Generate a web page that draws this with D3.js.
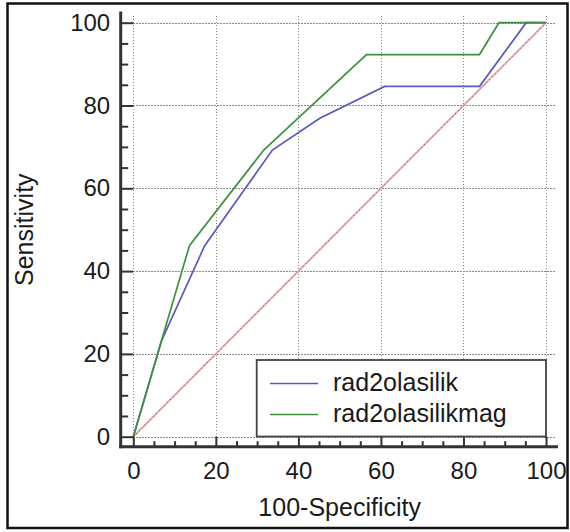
<!DOCTYPE html>
<html>
<head>
<meta charset="utf-8">
<script src="https://cdn.jsdelivr.net/npm/d3@7"></script>
<style>
  body { margin: 0; background: #fff; }
  text { font-family: "Liberation Sans", Arial, sans-serif; fill: #1a1a1a; }
</style>
</head>
<body>
<svg id="chart" width="570" height="532"></svg>
<script>
// ROC curves, values
var seriesNames = ["rad2olasilik", "rad2olasilikmag"];
var fprA  = [0, 6.8, 17.3, 33.7, 45.2, 60.9, 83.9, 95.2, 100];
var sensA = [0, 23.08, 46.15, 69.23, 76.92, 84.62, 84.62, 100, 100];
var fprB  = [0, 6.8, 13.6, 31.6, 56.5, 83.9, 88.6, 100];
var sensB = [0, 23.08, 46.15, 69.23, 92.31, 92.31, 100, 100];
var majorTicks = [0, 20, 40, 60, 80, 100];
var minorTicks = d3.range(0, 101, 5).filter(function (v) { return v % 20 !== 0; });

var colors = ["#5a5abf", "#3f913f"];

var svg = d3.select("#chart");

var x = d3.scaleLinear().domain([0, 100]).range([133.3, 546]);
var y = d3.scaleLinear().domain([0, 100]).range([436.7, 22.7]);

var axisX = 120.7, axisY = 446.7;

// outer frame
svg.append("rect")
  .attr("x", 7.5).attr("y", 3.5)
  .attr("width", 560).attr("height", 524.5)
  .attr("fill", "none").attr("stroke", "#111").attr("stroke-width", 2.5);

// dotted grid
var grid = svg.append("g").attr("stroke", "#8a8a8a").attr("stroke-width", 1)
  .attr("stroke-dasharray", "1.5,1.5").attr("shape-rendering", "crispEdges");
grid.selectAll("line.v").data(majorTicks).enter().append("line").attr("class", "v")
  .attr("x1", function (d) { return Math.round(x(d)) + 0.5; })
  .attr("x2", function (d) { return Math.round(x(d)) + 0.5; })
  .attr("y1", Math.round(y(0))).attr("y2", 14);
grid.selectAll("line.h").data(majorTicks).enter().append("line").attr("class", "h")
  .attr("y1", function (d) { return Math.round(y(d)) + 0.5; })
  .attr("y2", function (d) { return Math.round(y(d)) + 0.5; })
  .attr("x1", Math.round(x(0))).attr("x2", 556);

// diagonal reference
svg.append("line")
  .attr("x1", x(0)).attr("y1", y(0)).attr("x2", x(100)).attr("y2", y(100))
  .attr("stroke", "#e0b0b0").attr("stroke-width", 2);
svg.append("line")
  .attr("x1", x(0)).attr("y1", y(0)).attr("x2", x(100)).attr("y2", y(100))
  .attr("stroke", "#a03838").attr("stroke-width", 1).attr("stroke-dasharray", "1,3");

// curves
var line = d3.line()
  .x(function (d) { return x(d[0]); })
  .y(function (d) { return y(d[1]); });

var curves = [d3.zip(fprA, sensA), d3.zip(fprB, sensB)];
svg.selectAll(".curve").data(curves).enter().append("path")
  .attr("class", "curve")
  .attr("d", line)
  .attr("fill", "none")
  .attr("stroke", function (d, i) { return colors[i]; })
  .attr("stroke-width", 1.7);

// axes
var yAxis = svg.append("g").attr("transform", "translate(" + axisX + ",0)")
  .call(d3.axisLeft(y).tickValues(majorTicks).tickSize(-12.5).tickPadding(10.5));
var yMinor = svg.append("g").attr("transform", "translate(" + axisX + ",0)")
  .call(d3.axisLeft(y).tickValues(minorTicks).tickSize(-7.5).tickFormat(""));
var xAxis = svg.append("g").attr("transform", "translate(0," + axisY + ")")
  .call(d3.axisBottom(x).tickValues(majorTicks).tickSize(-10).tickPadding(15));
var xMinor = svg.append("g").attr("transform", "translate(0," + axisY + ")")
  .call(d3.axisBottom(x).tickValues(minorTicks).tickSize(-5.5).tickFormat(""));

[yAxis, yMinor, xAxis, xMinor].forEach(function (g) {
  g.select(".domain").remove();
  g.selectAll(".tick line").attr("stroke", "#333").attr("stroke-width", 2);
  g.selectAll("text").attr("font-size", "24px")
    .attr("font-family", "'Liberation Sans', Arial, sans-serif").attr("fill", "#1a1a1a");
});

svg.append("line").attr("x1", axisX).attr("x2", axisX).attr("y1", 11.5).attr("y2", axisY + 1.5)
  .attr("stroke", "#333").attr("stroke-width", 3);
svg.append("line").attr("x1", axisX - 1.5).attr("x2", 558).attr("y1", axisY).attr("y2", axisY)
  .attr("stroke", "#333").attr("stroke-width", 3);

// axis titles
svg.append("text")
  .attr("x", x(50)).attr("y", 516)
  .attr("text-anchor", "middle").attr("font-size", "25px")
  .text("100-Specificity");
svg.append("text")
  .attr("transform", "translate(33," + y(50) + ") rotate(-90)")
  .attr("text-anchor", "middle").attr("font-size", "25px")
  .text("Sensitivity");

// legend
var legend = svg.append("g");
legend.append("rect")
  .attr("x", 256.7).attr("y", 360).attr("width", 289.3).attr("height", 76.5)
  .attr("fill", "#fff").attr("stroke", "#444").attr("stroke-width", 1.8);
var items = legend.selectAll(".item").data(seriesNames).enter().append("g")
  .attr("transform", function (d, i) { return "translate(0," + (383.5 + i * 31) + ")"; });
items.append("line")
  .attr("x1", 270).attr("x2", 318).attr("y1", 0).attr("y2", 0)
  .attr("stroke", function (d, i) { return colors[i]; }).attr("stroke-width", 1.7);
items.append("text")
  .attr("x", 333).attr("y", 7)
  .attr("font-size", "25px")
  .text(function (d) { return d; });
</script>
</body>
</html>
